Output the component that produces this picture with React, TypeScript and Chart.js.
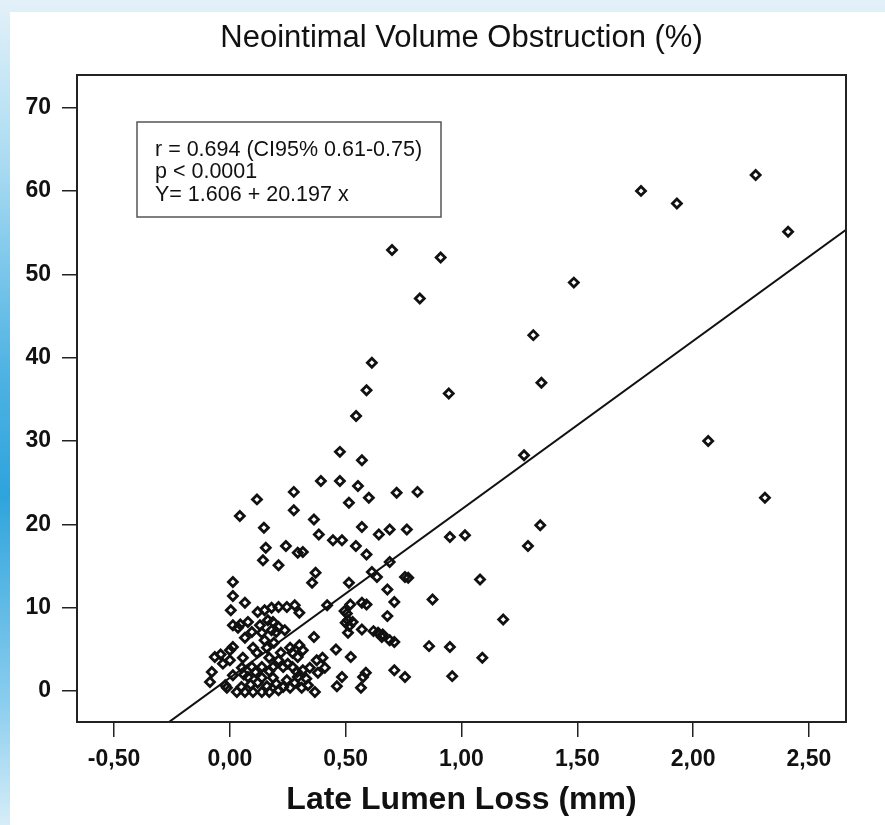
import React, { useEffect, useRef } from 'react';
import { Chart, registerables } from 'chart.js';

Chart.register(...registerables);

// Late lumen loss (mm) for each lesion
const lateLumenLoss: number[] = [
  1.775, 1.93, 2.27, 2.41, 2.065, 2.31, 1.485, 1.31, 1.345, 1.27, 1.287, 1.34, 0.70, 0.91, 0.82, 0.945,
  0.95, 1.015, 1.08, 1.18, 1.09, 0.95, 0.96, 0.875, 0.86,
  0.613, 0.59, 0.545, 0.475, 0.57, 0.393, 0.475, 0.553, 0.72, 0.81, 0.117, 0.276, 0.514, 0.60, 0.043,
  0.276, 0.363, 0.147, 0.384, 0.445, 0.484, 0.57, 0.643, 0.69, 0.764, 0.544, 0.59, 0.155, 0.242, 0.293,
  0.315, 0.143, 0.21, 0.69, 0.37,
  0.355, 0.013, 0.013, 0.004, 0.065, 0.514, 0.613, 0.635, 0.756, 0.77, 0.68, 0.71, 0.68, 0.42, 0.52,
  0.57, 0.59, 0.505, 0.51, 0.53, 0.57, 0.51, 0.64, 0.656, 0.69, 0.71, 0.363, 0.458, 0.522, 0.71, 0.756,
  0.587, 0.575, 0.566, 0.484, 0.462, 0.40, 0.41, 0.375, 0.38, 0.367, 0.345, 0.293, 0.30, 0.26, 0.293,
  -0.065, -0.078, -0.086, -0.02, 0.0, 0.013, 0.056, 0.1, 0.013, 0.035, 0.065, 0.078, 0.13, 0.138, 0.095,
  0.12, 0.15, 0.18, 0.21, 0.246, 0.28, 0.30, 0.186, 0.21, 0.18, 0.237, 0.2, 0.16, 0.117, 0.17, 0.21,
  0.23, 0.186, 0.138, 0.095, 0.052, 0.013, 0.078, 0.138, 0.186, 0.246, -0.013, 0.03, 0.065, 0.1, 0.138,
  0.17, 0.21, 0.26, 0.31, 0.337, 0.315, 0.27, 0.164, 0.15, 0.0, 0.315,
  0.495, 0.50, 0.515, 0.62, 0.66, 0.05, 0.09, 0.12, 0.16, 0.2, 0.23, 0.28, 0.33, 0.29, 0.25,
  0.22, 0.06, 0.11, 0.17, 0.27, 0.19, -0.04, -0.03, 0.045
];

// Neointimal volume obstruction (%) for each lesion
const obstruction: number[] = [
  60.0, 58.5, 61.9, 55.1, 30.0, 23.2, 49.0, 42.7, 37.0, 28.3, 17.4, 19.9, 52.9, 52.0, 47.1, 35.7,
  18.5, 18.7, 13.4, 8.6, 4.0, 5.3, 1.8, 11.0, 5.4,
  39.4, 36.1, 33.0, 28.7, 27.7, 25.2, 25.2, 24.6, 23.8, 23.9, 23.0, 23.9, 22.6, 23.2, 21.0,
  21.7, 20.6, 19.6, 18.8, 18.1, 18.1, 19.7, 18.8, 19.4, 19.4, 17.4, 16.4, 17.2, 17.4, 16.6,
  16.7, 15.7, 15.1, 15.5, 14.2,
  13.0, 13.1, 11.4, 9.7, 10.6, 13.0, 14.3, 13.7, 13.7, 13.6, 12.2, 10.7, 9.0, 10.3, 10.4,
  10.6, 10.4, 9.3, 8.5, 8.3, 7.4, 7.0, 7.0, 6.5, 6.1, 5.9, 6.5, 5.0, 4.1, 2.5, 1.7,
  2.2, 1.7, 0.4, 1.7, 0.6, 4.0, 2.8, 3.7, 2.2, -0.1, 2.8, 4.1, 5.5, 5.2, 1.7,
  4.1, 2.3, 1.1, 0.7, 3.7, 5.3, 4.0, 5.2, 7.9, 7.6, 6.4, 8.3, 7.9, 7.0, 7.1,
  9.5, 9.7, 10.0, 10.1, 10.1, 10.3, 9.4, 8.3, 7.7, 7.3, 7.3, 7.1, 5.2, 4.6, 4.0, 3.7,
  2.9, 2.9, 2.9, 2.9, 2.8, 1.9, 1.7, 1.6, 1.6, 1.3, 0.4, -0.1, -0.1, -0.1, -0.1,
  -0.1, 0.1, 0.4, 0.4, 0.7, 2.5, 2.9, 8.5, 6.1, 4.9, 4.9,
  9.6, 8.2, 7.8, 7.2, 6.8, 0.5, 0.8, 1.0, 0.6, 0.9, 0.5, 1.0, 1.5, 2.3, 3.3,
  4.6, 2.0, 2.3, 2.4, 4.6, 5.8, 4.4, 3.3, 8.0
];

const xTickValues: number[] = [-0.5, 0, 0.5, 1, 1.5, 2, 2.5];
const xTickLabels: string[] = ['-0,50', '0,00', '0,50', '1,00', '1,50', '2,00', '2,50'];
const yTickValues: number[] = [0, 10, 20, 30, 40, 50, 60, 70];
const yTickLabels: string[] = ['0', '10', '20', '30', '40', '50', '60', '70'];

// Regression line as stated in the chart: Y = 1.606 + 20.197 x
const FIT_INTERCEPT = 1.606;
const FIT_SLOPE = 20.197;
const fitX: number[] = [-0.66, 2.66];

const chartTitle = 'Neointimal Volume Obstruction (%)';
const xAxisTitle = 'Late Lumen Loss (mm)';
const annotationLines: string[] = [
  'r = 0.694 (CI95% 0.61-0.75)',
  'p < 0.0001',
  'Y= 1.606 + 20.197 x',
];

const FONT = "'Liberation Sans', Arial, Helvetica, sans-serif";
const INK = '#111111';

const frameAndNotePlugin = {
  id: 'frameAndNote',
  afterDraw(chart: any) {
    const { ctx, chartArea } = chart;
    const { left, top, right, bottom } = chartArea;
    ctx.save();
    // plot frame
    ctx.strokeStyle = '#222222';
    ctx.lineWidth = 2;
    ctx.strokeRect(left, top, right - left, bottom - top);
    // statistics box
    const bx = left + 60;
    const by = top + 47;
    const bw = 304;
    const bh = 95;
    ctx.fillStyle = '#ffffff';
    ctx.fillRect(bx, by, bw, bh);
    ctx.strokeStyle = '#555555';
    ctx.lineWidth = 1.5;
    ctx.strokeRect(bx, by, bw, bh);
    ctx.fillStyle = INK;
    ctx.font = `21.5px ${FONT}`;
    ctx.textBaseline = 'middle';
    ctx.textAlign = 'left';
    annotationLines.forEach((line, i) => {
      ctx.fillText(line, bx + 18, by + 28 + i * 22.5);
    });
    ctx.restore();
  },
};

export default function App() {
  const canvasRef = useRef<HTMLCanvasElement | null>(null);

  useEffect(() => {
    const canvas = canvasRef.current;
    if (!canvas) return;
    const points = lateLumenLoss.map((x, i) => ({ x, y: obstruction[i] }));
    const fitLine = fitX.map((x) => ({ x, y: FIT_INTERCEPT + FIT_SLOPE * x }));

    const chart = new Chart(canvas, {
      type: 'scatter',
      data: {
        datasets: [
          {
            data: points,
            pointStyle: 'rectRot',
            pointRadius: 4.5,
            pointHoverRadius: 4.5,
            borderColor: INK,
            borderWidth: 2.8,
            backgroundColor: 'rgba(0,0,0,0)',
          },
          {
            type: 'line',
            data: fitLine,
            borderColor: INK,
            borderWidth: 2,
            pointRadius: 0,
            fill: false,
            showLine: true,
          } as any,
        ],
      },
      options: {
        animation: false,
        responsive: false,
        devicePixelRatio: 1,
        events: [],
        layout: { padding: { left: 0, right: 39, top: 0, bottom: 0 } },
        plugins: {
          legend: { display: false },
          tooltip: { enabled: false },
          title: {
            display: true,
            text: chartTitle,
            fullSize: false,
            color: INK,
            font: { family: FONT, size: 31, weight: 'normal' },
            padding: { top: 20, bottom: 17.8 },
          },
        },
        scales: {
          x: {
            type: 'linear',
            min: -0.66,
            max: 2.66,
            afterBuildTicks: (s: any) => {
              s.ticks = xTickValues.map((v) => ({ value: v }));
            },
            afterFit: (s: any) => {
              s.height = 103;
            },
            border: { display: false },
            grid: {
              display: true,
              drawOnChartArea: false,
              drawTicks: true,
              tickLength: 15,
              color: '#222222',
              lineWidth: 1.5,
            },
            ticks: {
              autoSkip: false,
              maxRotation: 0,
              padding: 9,
              color: INK,
              font: { family: FONT, size: 23, weight: 'bold' },
              callback: (_v: any, i: number) => xTickLabels[i],
            },
            title: {
              display: true,
              text: xAxisTitle,
              color: INK,
              font: { family: FONT, size: 32, weight: 'bold' },
              padding: { top: 0, bottom: 6 },
            },
          },
          y: {
            type: 'linear',
            min: -3.7,
            max: 73.9,
            afterBuildTicks: (s: any) => {
              s.ticks = yTickValues.map((v) => ({ value: v }));
            },
            afterFit: (s: any) => {
              s.width = 77;
            },
            border: { display: false },
            grid: {
              display: true,
              drawOnChartArea: false,
              drawTicks: true,
              tickLength: 15,
              color: '#222222',
              lineWidth: 1.5,
            },
            ticks: {
              autoSkip: false,
              padding: 11,
              color: INK,
              font: { family: FONT, size: 23, weight: 'bold' },
              callback: (_v: any, i: number) => yTickLabels[i],
            },
          },
        },
      },
      plugins: [frameAndNotePlugin],
    });

    return () => {
      chart.destroy();
    };
  }, []);

  return (
    <div
      style={{
        position: 'fixed',
        left: 0,
        top: 0,
        width: 885,
        height: 825,
        background:
          'linear-gradient(180deg, #e3f1f9 0%, #a9dbf2 20%, #4fb3e3 45%, #2ea4dc 60%, #8acdee 85%, #d6edf8 100%)',
        overflow: 'hidden',
      }}
    >
      <div
        style={{
          position: 'absolute',
          left: 10,
          top: 12,
          right: 0,
          bottom: 0,
          background: '#ffffff',
        }}
      />
      <canvas
        ref={canvasRef}
        width={885}
        height={825}
        style={{ position: 'absolute', left: 0, top: 0, width: 885, height: 825 }}
      />
    </div>
  );
}
